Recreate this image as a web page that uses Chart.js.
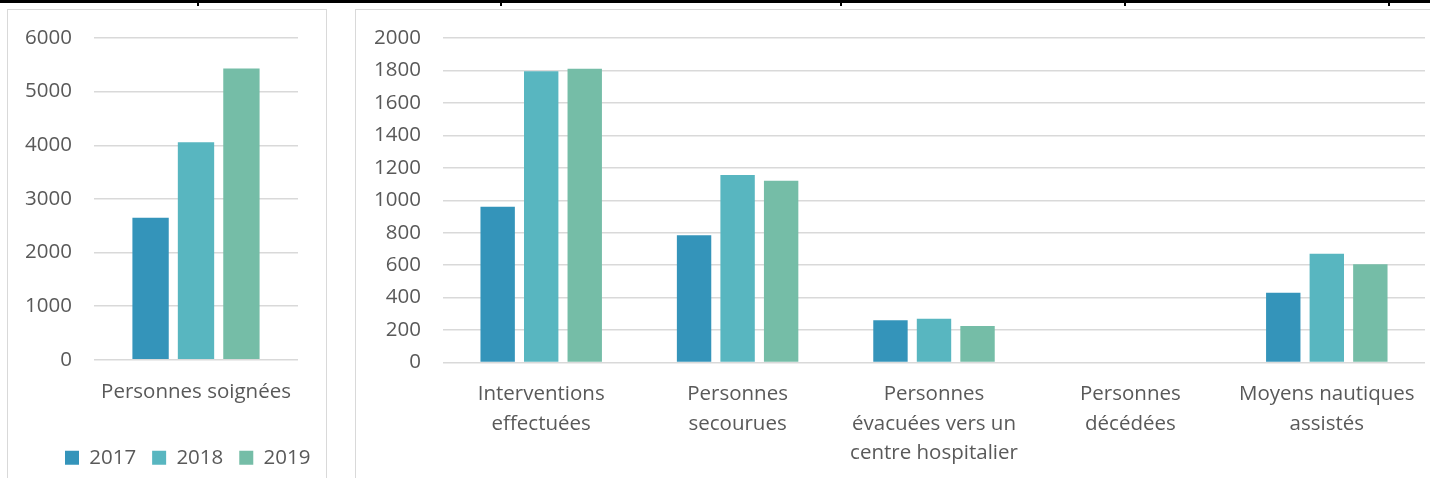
<!DOCTYPE html>
<html><head><meta charset="utf-8">
<script src="https://cdn.jsdelivr.net/npm/chart.js@4"></script>
<style>
html,body{margin:0;padding:0;width:1430px;height:478px;overflow:hidden;background:#fff;}
#topline{position:absolute;left:0;top:0;width:1430px;height:3px;background:#000;}
.tick{position:absolute;top:0;width:2px;height:6px;background:#000;}
.box{position:absolute;border:1px solid #d9d9d9;box-sizing:border-box;}
#leftBox{left:7px;top:9px;width:320px;height:480px;}
#rightBox{left:355px;top:9px;width:1090px;height:480px;}
#c1wrap{position:absolute;left:7px;top:8px;width:320px;height:470px;}
#c2wrap{position:absolute;left:355px;top:8px;width:1075px;height:470px;}
</style>
</head><body>
<div id="topline"></div>
<div class="tick" style="left:197px"></div>
<div class="tick" style="left:500px"></div>
<div class="tick" style="left:840px"></div>
<div class="tick" style="left:1124px"></div>
<div class="tick" style="left:1388px"></div>
<div class="box" id="leftBox"></div>
<div class="box" id="rightBox"></div>
<div id="c1wrap"><canvas id="c1"></canvas></div>
<div id="c2wrap"><canvas id="c2"></canvas></div>
<script>
// ---- data ----
const years = ["2017", "2018", "2019"];
const colors = ["#3494BA", "#58B6C0", "#75BDA7"];

const leftCategories = ["Personnes soignées"];
const left2017 = [2650];
const left2018 = [4055];
const left2019 = [5430];
const leftTicks = [0, 1000, 2000, 3000, 4000, 5000, 6000];

const rightCategories = [
  ["Interventions", "effectuées"],
  ["Personnes", "secourues"],
  ["Personnes", "évacuées vers un", "centre hospitalier"],
  ["Personnes", "décédées"],
  ["Moyens nautiques", "assistés"]
];
const right2017 = [960, 785, 260, 0, 430];
const right2018 = [1795, 1155, 270, 0, 670];
const right2019 = [1810, 1120, 225, 0, 605];
const rightTicks = [0, 200, 400, 600, 800, 1000, 1200, 1400, 1600, 1800, 2000];

// ---- styling ----
const FONT = { family: "'Open Sans', sans-serif", size: 20.5, lineHeight: 1.44 };
const TXT = "#595959";
const GRID = "#d9d9d9";

function makeDatasets(series, catPct, barPct) {
  return series.map((vals, i) => ({
    label: years[i],
    data: vals,
    backgroundColor: colors[i],
    borderWidth: 0,
    categoryPercentage: catPct,
    barPercentage: barPct
  }));
}

function yScale(tickValues, axisWidth) {
  return {
    min: tickValues[0], max: tickValues[tickValues.length - 1],
    afterBuildTicks: (s) => { s.ticks = tickValues.map(v => ({ value: v })); },
    ticks: { color: TXT, font: FONT, padding: 22, autoSkip: false, callback: (v) => String(v) },
    grid: { color: GRID, lineWidth: 1.5, drawTicks: false },
    border: { display: false },
    afterFit: (s) => { s.width = axisWidth; s.paddingTop = 0; s.paddingBottom = 0; }
  };
}

function xScale(height, pad) {
  return {
    ticks: { color: TXT, font: FONT, padding: pad, maxRotation: 0, autoSkip: false },
    grid: { display: false, drawTicks: false },
    border: { display: false },
    afterFit: (s) => { s.height = height; s.paddingLeft = 0; s.paddingRight = 0; }
  };
}

// shifts the bottom legend so its first box starts at the given canvas x
const legendShift = {
  id: "legendShift",
  afterLayout(chart, args, opts) {
    const lg = chart.legend;
    if (!lg || !lg.lineWidths || opts.startX == null) return;
    const pad = lg.options.labels.padding;
    const start = (lg.left + pad + lg.right - lg.lineWidths[0]) / 2;
    const dx = opts.startX - start;
    lg.left += dx; lg.right += dx;
  }
};

new Chart(document.getElementById("c1"), {
  type: "bar",
  data: {
    labels: leftCategories,
    datasets: makeDatasets([left2017, left2018, left2019], 0.668, 0.8)
  },
  options: {
    responsive: true, maintainAspectRatio: false, animation: false,
    layout: { padding: { left: 0, right: 29, top: 30, bottom: 0 } },
    scales: { x: xScale(71.7, 18), y: yScale(leftTicks, 87) },
    plugins: {
      legend: {
        position: "bottom",
        labels: { boxWidth: 14, boxHeight: 14, padding: 16, color: TXT, font: FONT }
      },
      legendShift: { startX: 58 },
      tooltip: { enabled: false }
    }
  },
  plugins: [legendShift]
});

new Chart(document.getElementById("c2"), {
  type: "bar",
  data: {
    labels: rightCategories,
    datasets: makeDatasets([right2017, right2018, right2019], 0.665, 0.79)
  },
  options: {
    responsive: true, maintainAspectRatio: false, animation: false,
    layout: { padding: { left: 0, right: 5, top: 30, bottom: 0 } },
    scales: { x: xScale(115.5, 17), y: yScale(rightTicks, 88) },
    plugins: { legend: { display: false }, tooltip: { enabled: false } }
  }
});
</script>
</body></html>
